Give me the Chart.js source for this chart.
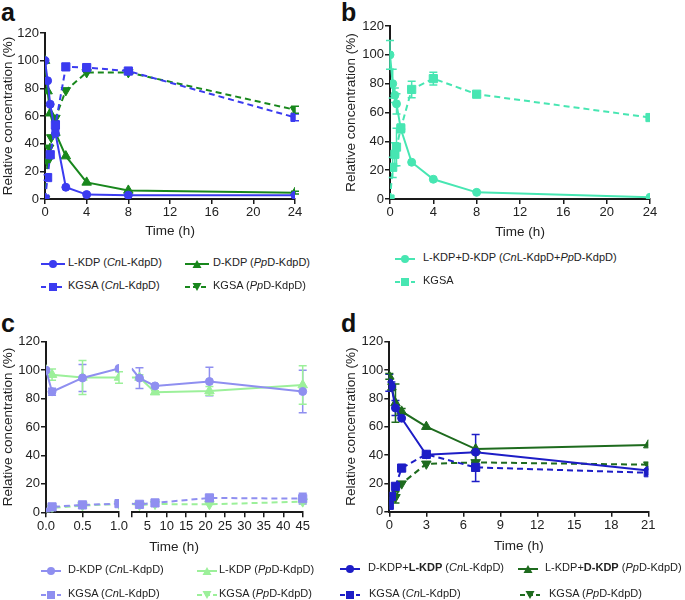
<!DOCTYPE html>
<html>
<head>
<meta charset="utf-8">
<script src="https://cdn.jsdelivr.net/npm/chart.js@4.4.0/dist/chart.umd.min.js"></script>
<style>
  body { margin: 0; background: #fff; font-family: "Liberation Sans", Arial, sans-serif; color: #222; }
  #fig { position: relative; width: 685px; height: 600px; overflow: hidden; }
  #fig canvas { position: absolute; }
  .plabel { position: absolute; font-weight: bold; font-size: 25px; line-height: 25px; color: #111; }
  .legsvg { position: absolute; }
  .legtxt { position: absolute; font-size: 11px; line-height: 14px; white-space: nowrap; color: #222; }
  .xtitle { position: absolute; font-size: 13.5px; line-height: 16px; text-align: center; color: #222; }
</style>
</head>
<body>
<div id="fig">
  <div class="plabel" style="left:1px;top:0px">a</div>
  <div class="plabel" style="left:341px;top:0px">b</div>
  <div class="plabel" style="left:1px;top:311px">c</div>
  <div class="plabel" style="left:341px;top:311px">d</div>

  <canvas id="chA" width="340" height="250" style="left:0;top:0"></canvas>
  <canvas id="chB" width="340" height="250" style="left:342px;top:0"></canvas>
  <canvas id="chC1" width="130" height="250" style="left:0;top:300px"></canvas>
  <canvas id="chC2" width="220" height="250" style="left:120px;top:300px"></canvas>
  <canvas id="chD" width="340" height="260" style="left:342px;top:300px"></canvas>
  <div class="xtitle" style="left:124px;top:539px;width:100px">Time (h)</div>
</div>

<script>
/* ── data ────────────────────────────────────────────────────── */

const yTicks = [0, 20, 40, 60, 80, 100, 120];

// panel a
const aTicks = [0, 4, 8, 12, 16, 20, 24];
const aTime = [0, 0.25, 0.5, 1, 2, 4, 8, 24];
const aLkdpCn = [100, 85.5, 68.5, 47.5, 8.5, 3.2, 2.8, 2.7];
const aLkdpCnErr = [0, 0, 0, 2, 0, 0, 0, 0];
const aKgsaCn = [0, 15.5, 32, 53.5, 95.5, 95, 92.5, 59];
const aKgsaCnErr = [0, 2, 2, 3, 0, 1, 1, 2.5];
const aDkdpPp = [100, 78, 62, 48, 31, 12, 6.2, 4.6];
const aDkdpPpErr = [0, 0, 0, 0, 0, 0, 0, 1];
const aTimePp = [0, 0.25, 0.4, 0.6, 1, 2, 4, 8, 24];
const aKgsaPp = [0, 27, 37, 44.5, 58.5, 78.5, 91.5, 91.5, 64.5];
const aKgsaPpErr = [0, 0, 0, 0, 0, 0, 0, 0, 2.5];

// panel b
const bTicks = [0, 4, 8, 12, 16, 20, 24];
const bTime = [0, 0.25, 0.45, 0.6, 1, 2, 4, 8, 24];
const bKdp = [100, 80, 72, 66, 48.5, 25.5, 13.7, 4.6, 1.2];
const bKdpErr = [10, 10, 5, 7, 2, 0, 0, 0, 0];
const bKgsa = [0, 22, 31, 36, 49, 76, 83.5, 72.7, 56.5];
const bKgsaErr = [0, 7, 8, 13, 3, 5.7, 4.5, 0, 0];

// panel c (broken time axis)
const cTicksLeft = [0, 0.5, 1];
const cTicksRight = [1, 5, 10, 15, 20, 25, 30, 35, 40, 45];
const cTime = [0, 0.083, 0.5, 1, 3, 7, 21, 45];
const cDkdpCn = [100, 84.8, 94.5, 101.2, 94.4, 88.9, 92, 85];
const cDkdpCnErr = [0, 2.5, 9.5, 0, 7.3, 0, 10, 15];
const cLkdpPp = [100, 96.8, 94.8, 94.8, 94.8, 84.5, 85.4, 89.5];
const cLkdpPpErr = [0, 4, 12, 4, 2, 1, 3, 13.5];
const cKgsaCn = [0, 3.8, 5.2, 6.1, 5.6, 6.6, 10.1, 9.6];
const cKgsaCnErr = [0, 0, 0, 0, 0, 0, 0, 3.8];
const cKgsaPp = [0, 3, 4.8, 5.8, 5.1, 5.8, 5.6, 7.5];
const cKgsaPpErr = [0, 0, 0, 0, 0, 0, 0, 1];

// panel d
const dTicks = [0, 3, 6, 9, 12, 15, 18, 21];
const dTime = [0, 0.17, 0.5, 1, 3, 7, 21];
const dKdpCn = [91, 88.5, 73.2, 66, 40.2, 42, 29];
const dKdpCnErr = [6, 3, 5.3, 0, 0, 12.5, 0];
const dKdpPp = [95.5, 88, 76.7, 70.8, 60, 44.2, 47];
const dKdpPpErr = [2, 2, 13.5, 2, 0, 0, 0];
const dKgsaCn = [4.5, 10.8, 17.9, 30.8, 40.5, 31.3, 27.5];
const dKgsaCnErr = [0, 0, 0, 2, 0, 10, 0];
const dKgsaPp = [6, 8, 10.2, 19.8, 33.8, 34.8, 33.2];
const dKgsaPpErr = [0, 0, 4, 0, 0, 6, 0];

/* ── colours ─────────────────────────────────────────────────── */
const BLUE_A = "#3b3bf0", GREEN_A = "#18871c";
const TEAL = "#47e6b2";
const PURPLE = "#8f8ff0", LGREEN = "#9cf09a";
const BLUE_D = "#1d1dc6", GREEN_D = "#1e6b1e";
const INK = "#1a1a1a";

Chart.defaults.font.family = '"Liberation Sans", Arial, sans-serif';
Chart.defaults.color = "#222";
Chart.defaults.animation = false;

const tickFont = { size: 13 };
const titleFont = { size: 13.5 };

/* error bars drawn from each dataset's err array via its scales */
const errorBars = {
    id: "errorBars",
    beforeDatasetsDraw(chart) {
        const ctx = chart.ctx;
        chart.data.datasets.forEach((ds, i) => {
            if (!ds.err) return;
            const meta = chart.getDatasetMeta(i);
            const xs = meta.xScale, ys = meta.yScale;
            ctx.save();
            ctx.strokeStyle = ds.borderColor;
            ctx.lineWidth = 1.5;
            ctx.setLineDash([]);
            ds.data.forEach((p, j) => {
                const e = ds.err[j];
                if (!e || p.x < xs.min || p.x > xs.max) return;
                const x = xs.getPixelForValue(p.x);
                const y1 = ys.getPixelForValue(p.y - e);
                const y2 = ys.getPixelForValue(p.y + e);
                ctx.beginPath();
                ctx.moveTo(x, y1); ctx.lineTo(x, y2);
                ctx.moveTo(x - 4, y1); ctx.lineTo(x + 4, y1);
                ctx.moveTo(x - 4, y2); ctx.lineTo(x + 4, y2);
                ctx.stroke();
            });
            ctx.restore();
        });
    }
};

function series(t, v, err, color, shape, dashed) {
    const radius = { circle: 4, rect: 5.8, triangle: 5.5, down: 5.5 }[shape];
    return {
        data: t.map((x, i) => ({ x, y: v[i] })),
        err,
        borderColor: color,
        backgroundColor: color,
        borderWidth: 2,
        borderDash: dashed ? [6, 4] : [],
        pointStyle: shape === "down" ? "triangle" : shape,
        rotation: shape === "down" ? 180 : 0,
        pointRadius: radius,
        pointBorderWidth: 1,
        tension: 0
    };
}

function xScale(min, max, ticks, height, title, extra) {
    return Object.assign({
        type: "linear", position: "bottom", min, max,
        afterBuildTicks: s => { s.ticks = ticks.map(v => ({ value: v })); },
        afterFit: s => { s.height = height; },
        ticks: { font: tickFont, color: "#222", padding: 1, maxRotation: 0, autoSkip: false },
        grid: { drawOnChartArea: false, color: INK, lineWidth: 1.5, tickLength: 5 },
        border: { color: INK, width: 2 },
        title: title ? { display: true, text: "Time (h)", font: titleFont, color: "#222", padding: { top: 0, bottom: title } }
                     : { display: false }
    }, extra || {});
}

function yScale(width, titlePad) {
    return {
        type: "linear", position: "left", min: 0, max: 120,
        afterBuildTicks: s => { s.ticks = yTicks.map(v => ({ value: v })); },
        afterFit: s => { s.width = width; },
        ticks: { font: tickFont, color: "#222", padding: 1 },
        grid: { drawOnChartArea: false, color: INK, lineWidth: 1.5, tickLength: 5 },
        border: { color: INK, width: 2 },
        title: { display: true, text: "Relative concentration (%)", font: titleFont, color: "#222",
                 padding: { top: titlePad, bottom: 0 } }
    };
}

function makeChart(id, datasets, scales, padding) {
    return new Chart(document.getElementById(id), {
        type: "line",
        data: { datasets },
        options: {
            responsive: false,
            events: [],
            layout: { padding },
            plugins: { legend: { display: false }, tooltip: { enabled: false } },
            scales
        },
        plugins: [errorBars]
    });
}

/* ── panel a ─────────────────────────────────────────────────── */
makeChart("chA", [
    series(aTime, aLkdpCn, aLkdpCnErr, BLUE_A, "circle", false),
    series(aTime, aKgsaCn, aKgsaCnErr, BLUE_A, "rect", true),
    series(aTime, aDkdpPp, aDkdpPpErr, GREEN_A, "triangle", false),
    series(aTimePp, aKgsaPp, aKgsaPpErr, GREEN_A, "down", true)
], {
    x: xScale(0, 24, aTicks, 51, 11),
    y: yScale(45, 0)
}, { left: 0, top: 33, right: 45, bottom: 0 });

/* ── panel b ─────────────────────────────────────────────────── */
makeChart("chB", [
    series(bTime, bKdp, bKdpErr, TEAL, "circle", false),
    series(bTime, bKgsa, bKgsaErr, TEAL, "rect", true)
], {
    x: xScale(0, 24, bTicks, 51, 10),
    y: yScale(48, 1)
}, { left: 0, top: 26, right: 32, bottom: 0 });

/* ── panel c: two segments of a broken axis ──────────────────── */
const cut = 4; // points with t <= 1 h go in the left segment
const leftPart = (a) => a.slice(0, cut);
const rightPart = (a) => a.slice(cut - 1);
const rightErr = (a) => a.slice(cut - 1).map((e, i) => (i ? e : 0));

makeChart("chC1", [
    series(leftPart(cTime), leftPart(cDkdpCn), leftPart(cDkdpCnErr), PURPLE, "circle", false),
    series(leftPart(cTime), leftPart(cLkdpPp), leftPart(cLkdpPpErr), LGREEN, "triangle", false),
    series(leftPart(cTime), leftPart(cKgsaCn), leftPart(cKgsaCnErr), PURPLE, "rect", true),
    series(leftPart(cTime), leftPart(cKgsaPp), leftPart(cKgsaPpErr), LGREEN, "down", true)
], {
    x: xScale(0, 1, cTicksLeft, 37.7, 0, { ticks: { font: tickFont, color: "#222", padding: 1, maxRotation: 0, autoSkip: false, callback: v => v.toFixed(1) } }),
    y: yScale(46, 0)
}, { left: 0, top: 41.7, right: 11, bottom: 0 });

const cRight = [
    series(rightPart(cTime), rightPart(cDkdpCn), rightErr(cDkdpCnErr), PURPLE, "circle", false),
    series(rightPart(cTime), rightPart(cLkdpPp), rightErr(cLkdpPpErr), LGREEN, "triangle", false),
    series(rightPart(cTime), rightPart(cKgsaCn), rightErr(cKgsaCnErr), PURPLE, "rect", true),
    series(rightPart(cTime), rightPart(cKgsaPp), rightErr(cKgsaPpErr), LGREEN, "down", true)
];
cRight.forEach(ds => {
    const r = ds.pointRadius;
    ds.pointRadius = ds.data.map((p, i) => (i ? r : 0));
    ds.clip = { left: 0, top: 10, right: 10, bottom: 10 };
});
makeChart("chC2", cRight, {
    x: xScale(1, 45, cTicksRight, 37.7, 0, { ticks: { font: tickFont, color: "#222", padding: 1, maxRotation: 0, autoSkip: false, callback: v => (v === 1 ? "" : v) } }),
    y: { type: "linear", min: 0, max: 120, display: false }
}, { left: 11.7, top: 41.7, right: 37.3, bottom: 0 });

/* ── panel d ─────────────────────────────────────────────────── */
makeChart("chD", [
    series(dTime, dKdpCn, dKdpCnErr, BLUE_D, "circle", false),
    series(dTime, dKdpPp, dKdpPpErr, GREEN_D, "triangle", false),
    series(dTime, dKgsaCn, dKgsaCnErr, BLUE_D, "rect", true),
    series(dTime, dKgsaPp, dKgsaPpErr, GREEN_D, "down", true)
], {
    x: xScale(0, 21, dTicks, 48.3, 5.2),
    y: yScale(47.3, 1)
}, { left: 0, top: 41.7, right: 33.7, bottom: 0 });

/* ── legends (html, so italic / bold runs stay real text) ────── */
function legendIcon(w, color, shape, dashed) {
    const c = w / 2;
    let m;
    if (shape === "circle") m = `<circle cx="${c}" cy="6" r="4" fill="${color}"/>`;
    else if (shape === "rect") m = `<rect x="${c - 4}" y="2" width="8" height="8" fill="${color}"/>`;
    else if (shape === "triangle") m = `<polygon points="${c - 4.5},10 ${c + 4.5},10 ${c},2" fill="${color}"/>`;
    else m = `<polygon points="${c - 4.5},2 ${c + 4.5},2 ${c},10" fill="${color}"/>`;
    const dash = dashed ? 'stroke-dasharray="5,3"' : "";
    return `<svg width="${w}" height="12"><line x1="0" y1="6" x2="${w}" y2="6" stroke="${color}" stroke-width="2" ${dash}/>${m}</svg>`;
}

const legends = [
    // [iconLeft, iconWidth, rowY, textLeft, colour, shape, dashed, label]
    [41, 24, 262, 68, BLUE_A, "circle", false, "L-KDP (<i>Cn</i>L-KdpD)"],
    [185, 24, 262, 213, GREEN_A, "triangle", false, "D-KDP (<i>Pp</i>D-KdpD)"],
    [41, 24, 285, 68, BLUE_A, "rect", true, "KGSA (<i>Cn</i>L-KdpD)"],
    [185, 24, 285, 213, GREEN_A, "down", true, "KGSA (<i>Pp</i>D-KdpD)"],

    [395, 20, 257, 423, TEAL, "circle", false, "L-KDP+D-KDP (<i>Cn</i>L-KdpD+<i>Pp</i>D-KdpD)"],
    [395, 20, 280, 423, TEAL, "rect", true, "KGSA"],

    [41, 20, 569, 68, PURPLE, "circle", false, "D-KDP (<i>Cn</i>L-KdpD)"],
    [197, 20, 569, 219, LGREEN, "triangle", false, "L-KDP (<i>Pp</i>D-KdpD)"],
    [41, 20, 593, 68, PURPLE, "rect", true, "KGSA (<i>Cn</i>L-KdpD)"],
    [197, 20, 593, 219, LGREEN, "down", true, "KGSA (<i>Pp</i>D-KdpD)"],

    [340, 20, 567, 368, BLUE_D, "circle", false, "D-KDP+<b>L-KDP</b> (<i>Cn</i>L-KdpD)"],
    [518, 20, 567, 545, GREEN_D, "triangle", false, "L-KDP+<b>D-KDP</b> (<i>Pp</i>D-KdpD)"],
    [340, 20, 593, 369, BLUE_D, "rect", true, "KGSA (<i>Cn</i>L-KdpD)"],
    [520, 20, 593, 549, GREEN_D, "down", true, "KGSA (<i>Pp</i>D-KdpD)"]
];

const fig = document.getElementById("fig");
legends.forEach(([il, iw, ry, tl, col, shape, dashed, label]) => {
    const icon = document.createElement("div");
    icon.className = "legsvg";
    icon.style.left = il + "px";
    icon.style.top = (ry - 6) + "px";
    icon.innerHTML = legendIcon(iw, col, shape, dashed);
    fig.appendChild(icon);

    const txt = document.createElement("div");
    txt.className = "legtxt";
    txt.style.left = tl + "px";
    txt.style.top = (ry - 7) + "px";
    txt.innerHTML = label;
    fig.appendChild(txt);
});
</script>
</body>
</html>
